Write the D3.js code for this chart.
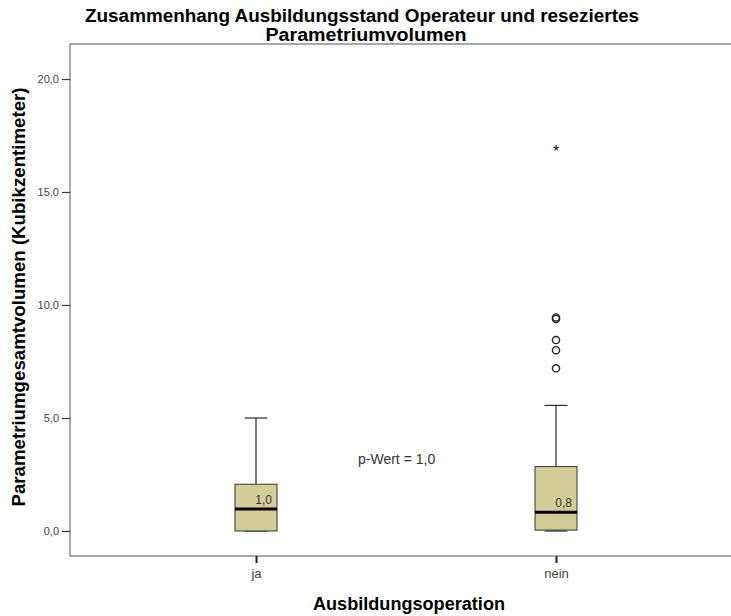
<!DOCTYPE html>
<html>
<head>
<meta charset="utf-8">
<script src="https://cdn.jsdelivr.net/npm/d3@7"></script>
<style>
  body { margin: 0; background: #fff; }
  svg { font-family: "Liberation Sans", Arial, sans-serif; }
</style>
</head>
<body>
<script>
// box plot values
const groups = ['ja', 'nein']
const whiskerLow = [0, 0]
const q1 = [0, 0.04]
const median = [0.97, 0.83]
const q3 = [2.07, 2.85]
const whiskerHigh = [5.0, 5.56]
const medianLabels = ['1,0', '0,8']
// outliers only in "nein"
const outlierGroup = ['nein', 'nein', 'nein', 'nein', 'nein']
const outlierValues = [7.2, 8.0, 8.45, 9.38, 9.45]
const extremeGroup = ['nein']
const extremeValues = [16.9]
const yTicks = [0, 5, 10, 15, 20]

const width = 731
const height = 616
const plotLeft = 70
const plotRight = 745
const plotTop = 44
const plotBottom = 556

const yScale = d3.scaleLinear()
  .domain([0, 20])
  .range([531, 79])

const xScale = d3.scalePoint()
  .domain(groups)
  .range([256, 556])

const boxW = 42
const capW = 23

const svg = d3.select('body')
  .append('svg')
  .attr('width', width)
  .attr('height', height)

// plot frame
svg.append('rect')
  .attr('x', plotLeft)
  .attr('y', plotTop)
  .attr('width', plotRight - plotLeft)
  .attr('height', plotBottom - plotTop)
  .attr('fill', 'none')
  .attr('stroke', '#555')
  .attr('stroke-width', 1)

// y axis
const yAxis = d3.axisLeft(yScale)
  .tickValues(yTicks)
  .tickSize(8)
  .tickPadding(3)
  .tickFormat(d => d3.format('.1f')(d).replace('.', ','))

const gy = svg.append('g')
  .attr('transform', 'translate(' + plotLeft + ',0)')
  .call(yAxis)
gy.select('.domain').remove()
gy.selectAll('.tick line').attr('stroke', '#333').attr('stroke-width', 1.2)
gy.selectAll('.tick text')
  .attr('fill', '#444')
  .attr('font-size', '11px')
  .attr('font-family', '"Liberation Sans", Arial, sans-serif')

// x axis
const xAxis = d3.axisBottom(xScale)
  .tickSize(7)
  .tickPadding(6)
const gx = svg.append('g')
  .attr('transform', 'translate(0,' + plotBottom + ')')
  .call(xAxis)
gx.select('.domain').remove()
gx.selectAll('.tick line').attr('stroke', '#222').attr('stroke-width', 2)
gx.selectAll('.tick text')
  .attr('fill', '#444')
  .attr('font-size', '13px')
  .attr('font-family', '"Liberation Sans", Arial, sans-serif')

// boxes
const boxes = svg.selectAll('.box')
  .data(groups)
  .enter()
  .append('g')
  .attr('class', 'box')

// whisker stem
boxes.append('line')
  .attr('x1', d => xScale(d))
  .attr('x2', d => xScale(d))
  .attr('y1', (d, i) => yScale(whiskerHigh[i]))
  .attr('y2', (d, i) => yScale(q3[i]))
  .attr('stroke', '#000')
boxes.append('line')
  .attr('x1', d => xScale(d))
  .attr('x2', d => xScale(d))
  .attr('y1', (d, i) => yScale(q1[i]))
  .attr('y2', (d, i) => yScale(whiskerLow[i]))
  .attr('stroke', '#000')

// whisker caps
boxes.append('line')
  .attr('x1', d => xScale(d) - capW / 2)
  .attr('x2', d => xScale(d) + capW / 2)
  .attr('y1', (d, i) => yScale(whiskerHigh[i]))
  .attr('y2', (d, i) => yScale(whiskerHigh[i]))
  .attr('stroke', '#000')
boxes.append('line')
  .attr('x1', d => xScale(d) - capW / 2)
  .attr('x2', d => xScale(d) + capW / 2)
  .attr('y1', (d, i) => yScale(whiskerLow[i]))
  .attr('y2', (d, i) => yScale(whiskerLow[i]))
  .attr('stroke', '#000')

boxes.append('rect')
  .attr('x', d => xScale(d) - boxW / 2)
  .attr('y', (d, i) => yScale(q3[i]))
  .attr('width', boxW)
  .attr('height', (d, i) => yScale(q1[i]) - yScale(q3[i]))
  .attr('fill', '#d3ce97')
  .attr('stroke', '#333')
  .attr('stroke-width', 1)

boxes.append('line')
  .attr('x1', d => xScale(d) - boxW / 2)
  .attr('x2', d => xScale(d) + boxW / 2)
  .attr('y1', (d, i) => yScale(median[i]))
  .attr('y2', (d, i) => yScale(median[i]))
  .attr('stroke', '#000')
  .attr('stroke-width', 3)

boxes.append('text')
  .attr('x', d => xScale(d) + boxW / 2 - 5)
  .attr('y', (d, i) => yScale(median[i]) - 5)
  .attr('text-anchor', 'end')
  .attr('font-size', '12px')
  .attr('fill', '#333')
  .text((d, i) => medianLabels[i])

// outliers
svg.selectAll('.outlier')
  .data(outlierValues)
  .enter()
  .append('circle')
  .attr('cx', (d, i) => xScale(outlierGroup[i]))
  .attr('cy', d => yScale(d))
  .attr('r', 3.6)
  .attr('fill', 'none')
  .attr('stroke', '#222')
  .attr('stroke-width', 1.4)

svg.selectAll('.extreme')
  .data(extremeValues)
  .enter()
  .append('text')
  .attr('x', (d, i) => xScale(extremeGroup[i]))
  .attr('y', d => yScale(d) + 8)
  .attr('text-anchor', 'middle')
  .attr('font-size', '16px')
  .attr('fill', '#111')
  .text('*')

// p value
svg.append('text')
  .attr('x', 358)
  .attr('y', 464)
  .attr('font-size', '14px')
  .attr('fill', '#333')
  .text('p-Wert = 1,0')

// title
svg.append('text')
  .attr('x', 362)
  .attr('y', 22)
  .attr('text-anchor', 'middle')
  .attr('font-size', '18px')
  .attr('font-weight', 'bold')
  .attr('fill', '#000')
  .attr('textLength', 554)
  .attr('lengthAdjust', 'spacingAndGlyphs')
  .text('Zusammenhang Ausbildungsstand Operateur und reseziertes')
svg.append('text')
  .attr('x', 366)
  .attr('y', 41)
  .attr('text-anchor', 'middle')
  .attr('font-size', '18px')
  .attr('font-weight', 'bold')
  .attr('fill', '#000')
  .attr('textLength', 201)
  .attr('lengthAdjust', 'spacingAndGlyphs')
  .text('Parametriumvolumen')

// axis titles
svg.append('text')
  .attr('x', 409)
  .attr('y', 610)
  .attr('text-anchor', 'middle')
  .attr('font-size', '18px')
  .attr('font-weight', 'bold')
  .attr('textLength', 192)
  .attr('lengthAdjust', 'spacingAndGlyphs')
  .text('Ausbildungsoperation')

svg.append('text')
  .attr('x', -297)
  .attr('y', 25)
  .attr('transform', 'rotate(-90)')
  .attr('text-anchor', 'middle')
  .attr('font-size', '18px')
  .attr('font-weight', 'bold')
  .attr('textLength', 419)
  .attr('lengthAdjust', 'spacingAndGlyphs')
  .text('Parametriumgesamtvolumen (Kubikzentimeter)')
</script>
</body>
</html>
